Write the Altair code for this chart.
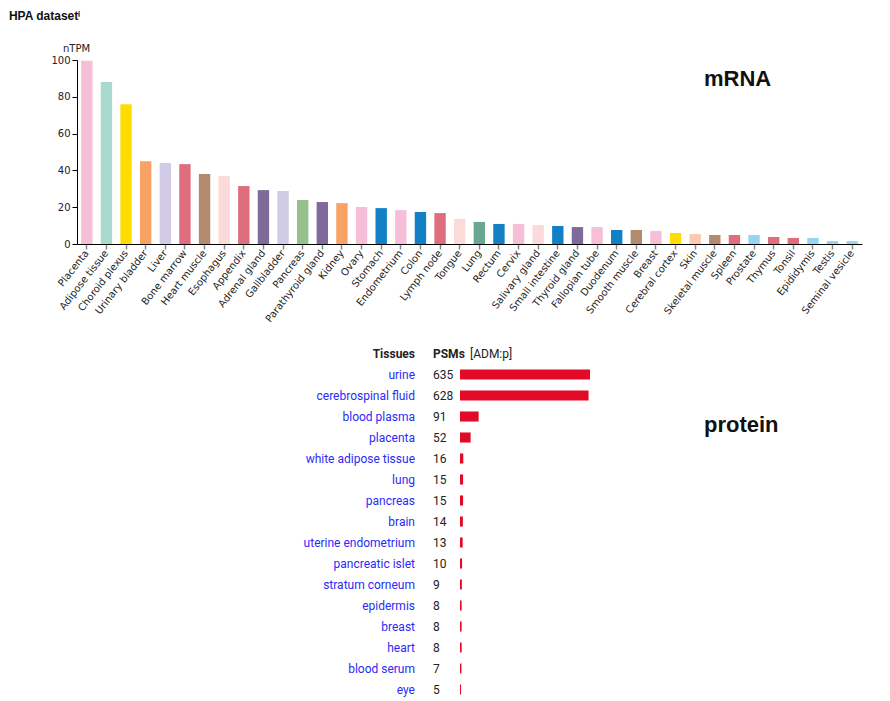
import altair as alt
import pandas as pd

# ---------------- mRNA data ----------------
tissues = ["Placenta", "Adipose tissue", "Choroid plexus", "Urinary bladder", "Liver",
           "Bone marrow", "Heart muscle", "Esophagus", "Appendix", "Adrenal gland",
           "Gallbladder", "Pancreas", "Parathyroid gland", "Kidney", "Ovary",
           "Stomach", "Endometrium", "Colon", "Lymph node", "Tongue",
           "Lung", "Rectum", "Cervix", "Salivary gland", "Small intestine",
           "Thyroid gland", "Fallopian tube", "Duodenum", "Smooth muscle", "Breast",
           "Cerebral cortex", "Skin", "Skeletal muscle", "Spleen", "Prostate",
           "Thymus", "Tonsil", "Epididymis", "Testis", "Seminal vesicle"]
ntpm = [99.6, 88.0, 76.0, 45.0, 44.0,
        43.4, 38.0, 36.9, 31.5, 29.3,
        28.8, 23.9, 22.8, 22.2, 20.1,
        19.5, 18.4, 17.4, 16.8, 13.6,
        12.0, 10.9, 10.9, 10.3, 9.8,
        9.2, 9.2, 7.6, 7.6, 7.1,
        6.0, 5.4, 4.9, 4.9, 4.9,
        3.8, 3.3, 3.3, 1.6, 1.6]
bar_colors = ["#F7BED8", "#A8DACF", "#FFDD00", "#F9A266", "#D1CBE5",
              "#E06D7D", "#B28B6E", "#FCDAD9", "#E06D7D", "#7F6A9C",
              "#D1CBE5", "#96C08E", "#7F6A9C", "#F9A266", "#F7BED8",
              "#1280C4", "#F7BED8", "#1280C4", "#E06D7D", "#FCDAD9",
              "#6AA692", "#1280C4", "#F7BED8", "#FCDAD9", "#1280C4",
              "#7F6A9C", "#F7BED8", "#1280C4", "#B28B6E", "#F7BED8",
              "#FFDD00", "#FCC9B3", "#B28B6E", "#E06D7D", "#95D4F3",
              "#E06D7D", "#E06D7D", "#95D4F3", "#95D4F3", "#95D4F3"]

# ---------------- protein data ----------------
prot_tissues = ["urine", "cerebrospinal fluid", "blood plasma", "placenta",
                "white adipose tissue", "lung", "pancreas", "brain",
                "uterine endometrium", "pancreatic islet", "stratum corneum",
                "epidermis", "breast", "heart", "blood serum", "eye"]
psms = [635, 628, 91, 52, 16, 15, 15, 14, 13, 10, 9, 8, 8, 8, 7, 5]

mrna_df = pd.DataFrame({"tissue": tissues, "nTPM": ntpm})
prot_df = pd.DataFrame({"tissue": prot_tissues, "psm": psms})

W = 785

bars = alt.Chart(mrna_df).mark_bar().encode(
    x=alt.X("tissue:N", sort=tissues,
            scale=alt.Scale(paddingInner=0.42, paddingOuter=0.21),
            axis=alt.Axis(title=None, labelAngle=-52, labelAlign="right",
                          labelBaseline="middle", labelFont="DejaVu Sans",
                          labelFontSize=10, labelColor="#222222",
                          tickColor="#888888", tickSize=5, tickWidth=1.5,
                          domainColor="#000000", labelPadding=2)),
    y=alt.Y("nTPM:Q", scale=alt.Scale(domain=[0, 100]),
            axis=alt.Axis(values=[0, 20, 40, 60, 80, 100], grid=False,
                          title="nTPM", titleAngle=0, titleX=-1, titleY=-9,
                          titleAlign="center", titleBaseline="alphabetic",
                          titleFontWeight="normal", titleFontSize=10,
                          titleFont="DejaVu Sans", titleColor="#222222",
                          labelFont="DejaVu Sans", labelFontSize=10,
                          labelColor="#222222", tickColor="#000000",
                          domainColor="#000000", tickSize=5)),
    color=alt.Color("tissue:N", scale=alt.Scale(domain=tissues, range=bar_colors),
                    legend=None),
)

mrna_label = alt.Chart(pd.DataFrame({"t": ["mRNA"]})).mark_text(
    align="left", baseline="alphabetic", font="Liberation Sans", fontWeight="bold",
    fontSize=22, color="#111111"
).encode(x=alt.value(627), y=alt.value(26), text="t:N")

top = alt.layer(bars, mrna_label).properties(width=W, height=184)

ybase = alt.Y("tissue:N", sort=prot_tissues, axis=None,
              scale=alt.Scale(paddingInner=0.52, paddingOuter=0.26))

pbars = alt.Chart(prot_df).mark_bar(color="#E20A27").encode(
    x=alt.X("psm:Q", scale=alt.Scale(domain=[0, 635], range=[383, 513]), axis=None),
    y=ybase,
)
names = alt.Chart(prot_df).mark_text(
    align="right", baseline="middle", font="Roboto", fontSize=12, color="#2B2BF5"
).encode(x=alt.value(338), y=ybase, text="tissue:N")
nums = alt.Chart(prot_df).mark_text(
    align="left", baseline="middle", font="Roboto", fontSize=12, color="#222222"
).encode(x=alt.value(356), y=ybase, text="psm:Q")

h1 = alt.Chart(pd.DataFrame({"t": ["Tissues"]})).mark_text(
    align="right", baseline="middle", font="Roboto", fontSize=12,
    fontWeight="bold", color="#222222"
).encode(x=alt.value(338), y=alt.value(-10.5), text="t:N")
h2 = alt.Chart(pd.DataFrame({"t": ["PSMs"]})).mark_text(
    align="left", baseline="middle", font="Roboto", fontSize=12,
    fontWeight="bold", color="#222222"
).encode(x=alt.value(356), y=alt.value(-10.5), text="t:N")
h3 = alt.Chart(pd.DataFrame({"t": ["[ADM:p]"]})).mark_text(
    align="left", baseline="middle", font="Roboto", fontSize=12, color="#222222"
).encode(x=alt.value(393), y=alt.value(-10.5), text="t:N")
prot_label = alt.Chart(pd.DataFrame({"t": ["protein"]})).mark_text(
    align="left", baseline="alphabetic", font="Liberation Sans", fontWeight="bold",
    fontSize=22, color="#111111"
).encode(x=alt.value(627), y=alt.value(68), text="t:N")

bottom = alt.layer(pbars, names, nums, h1, h2, h3, prot_label).properties(
    width=W, height=336)

chart = alt.vconcat(top, bottom, spacing=23).properties(
    title=alt.TitleParams("HPA datasetⁱ", anchor="start", frame="bounds",
                          font="Liberation Sans", fontSize=12, fontWeight="bold",
                          color="#111111", dx=-42, offset=20),
    padding={"left": 0, "top": 2, "right": 5, "bottom": 5},
).configure_view(stroke=None)

chart.save("out.html", embed_options={"renderer": "svg", "actions": False})
